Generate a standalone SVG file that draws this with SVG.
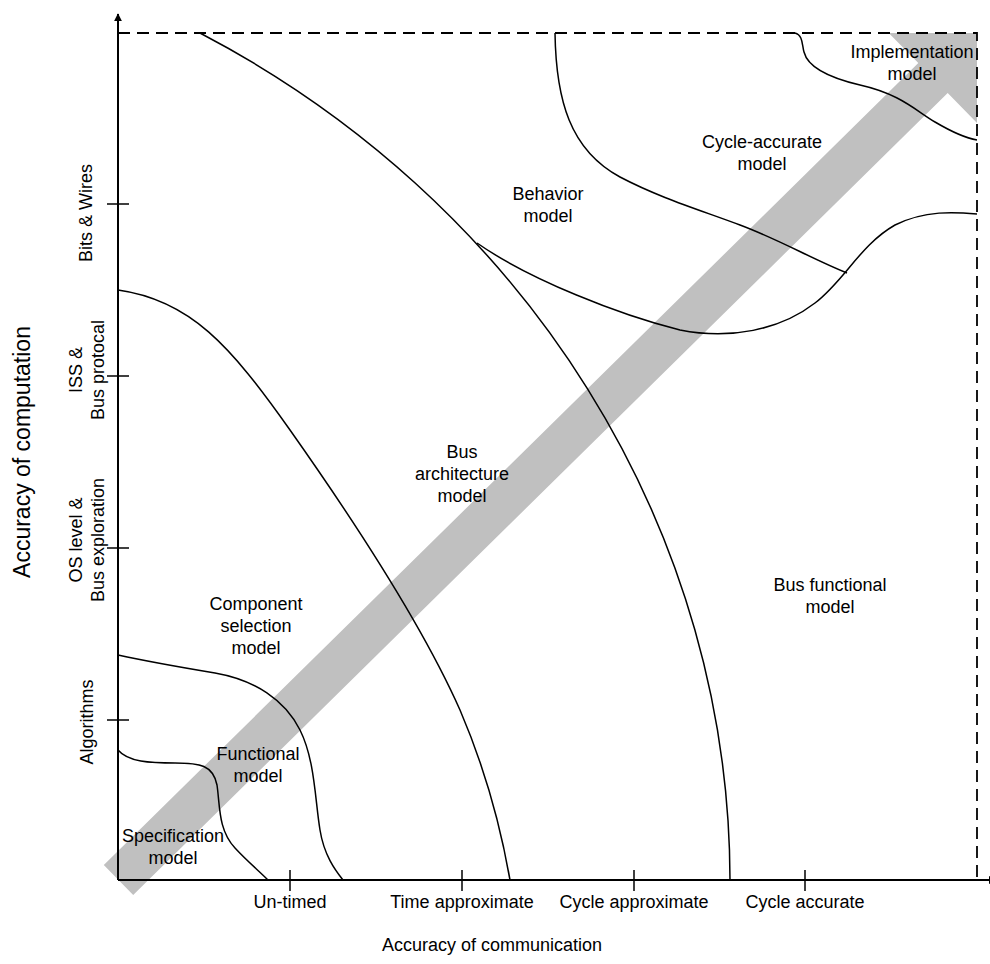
<svg xmlns="http://www.w3.org/2000/svg" width="990" height="964" viewBox="0 0 990 964">
  <style>
    .lbl { font-family: "Liberation Sans", Arial, sans-serif; font-size: 18px; fill: #000; text-anchor: middle; }
    .ttl { font-family: "Liberation Sans", Arial, sans-serif; fill: #000; text-anchor: middle; }
    .curve { fill: none; stroke: #000; stroke-width: 1.5; }
    .axis { fill: none; stroke: #000; stroke-width: 2; }
    .dash { fill: none; stroke: #000; stroke-width: 1.8; stroke-dasharray: 12 7; }
    .tick { stroke: #000; stroke-width: 1.5; }
  </style>
  <defs>
    <marker id="axisHead" viewBox="0 0 10 10" refX="9" refY="5" markerWidth="4" markerHeight="5" markerUnits="strokeWidth" orient="auto">
      <path d="M0,0 L10,5 L0,10 Z" fill="#000"/>
    </marker>
    <clipPath id="plotClip">
      <rect x="0" y="33" width="977" height="931"/>
    </clipPath>
  </defs>
  <rect width="990" height="964" fill="#fff"/>

  <!-- refinement band: wide grey block arrow running corner to corner -->
  <g id="refinement-arrow" clip-path="url(#plotClip)">
    <polygon fill="#c0c0c0" points="103.8,865 918.3,63.1 884,28.2 990,22 982,128 947.7,93.1 133.2,895"/>
  </g>

  <!-- plot frame: dashed top and right limits -->
  <g id="frame">
    <path class="dash" d="M118,33 H977 V880"/>
  </g>

  <!-- axes with ticks -->
  <g id="axes">
    <line class="axis" x1="118" y1="880" x2="118" y2="14" marker-end="url(#axisHead)"/>
    <line class="axis" x1="118" y1="880" x2="996" y2="880" marker-end="url(#axisHead)"/>
    <line class="tick" x1="290" y1="870" x2="290" y2="891"/>
    <line class="tick" x1="462" y1="870" x2="462" y2="891"/>
    <line class="tick" x1="634" y1="870" x2="634" y2="891"/>
    <line class="tick" x1="805" y1="870" x2="805" y2="891"/>
    <line class="tick" x1="107" y1="204" x2="129" y2="204"/>
    <line class="tick" x1="107" y1="376" x2="129" y2="376"/>
    <line class="tick" x1="107" y1="548" x2="129" y2="548"/>
    <line class="tick" x1="107" y1="720" x2="129" y2="720"/>
  </g>

  <!-- region boundaries -->
  <g id="connectors">
    <path id="b-spec" class="curve" d="M118,750 C128,762 150,763 175,763 C200,763 213,765 217,785 C220,805 218,830 235,848 C248,862 258,870 268,880"/>
    <path id="b-func" class="curve" d="M118,655 C150,662 185,668 215,673 C255,680 285,700 300,730 C315,760 315,800 320,830 C324,855 335,870 343,880"/>
    <path id="b-comp" class="curve" d="M118,290 C190,300 230,345 290,430 C350,515 420,620 460,710 C490,780 503,840 510,880"/>
    <path id="b-bus" class="curve" d="M200,33 A1030,970 0 0 1 730,880"/>
    <path id="b-behav" class="curve" d="M477,243 C530,280 620,315 680,330 C730,340 780,330 815,303 C845,280 860,245 895,225 C925,210 955,212 977,214"/>
    <path id="b-cycle" class="curve" d="M555,33 C556,100 570,150 620,177 C660,198 700,210 740,225 C780,240 810,258 847,273"/>
    <path id="b-impl" class="curve" d="M795,33 C803,35 802,45 804,52 C808,68 830,78 860,85 C900,94 915,110 935,122 C952,132 965,138 977,140"/>
  </g>

  <!-- model regions -->
  <g id="spec-model"><text class="lbl" x="173" y="842">Specification</text><text class="lbl" x="173" y="864">model</text></g>
  <g id="functional-model"><text class="lbl" x="258" y="760">Functional</text><text class="lbl" x="258" y="782">model</text></g>
  <g id="component-model"><text class="lbl" x="256" y="610">Component</text><text class="lbl" x="256" y="632">selection</text><text class="lbl" x="256" y="654">model</text></g>
  <g id="bus-arch-model"><text class="lbl" x="462" y="458">Bus</text><text class="lbl" x="462" y="480">architecture</text><text class="lbl" x="462" y="502">model</text></g>
  <g id="behavior-model"><text class="lbl" x="548" y="200">Behavior</text><text class="lbl" x="548" y="222">model</text></g>
  <g id="cycle-model"><text class="lbl" x="762" y="148">Cycle-accurate</text><text class="lbl" x="762" y="170">model</text></g>
  <g id="impl-model"><text class="lbl" x="912" y="58">Implementation</text><text class="lbl" x="912" y="80">model</text></g>
  <g id="bus-func-model"><text class="lbl" x="830" y="591">Bus functional</text><text class="lbl" x="830" y="613">model</text></g>

  <!-- communication axis labels -->
  <g id="x-labels">
    <text class="lbl" x="290" y="908">Un-timed</text>
    <text class="lbl" x="462" y="908">Time approximate</text>
    <text class="lbl" x="634" y="908">Cycle approximate</text>
    <text class="lbl" x="805" y="908">Cycle accurate</text>
    <text class="ttl" x="492" y="951" font-size="18">Accuracy of communication</text>
  </g>

  <!-- computation axis labels -->
  <g id="y-labels">
    <text class="lbl" transform="translate(92,213) rotate(-90)">Bits &amp; Wires</text>
    <text class="lbl" transform="translate(82,370) rotate(-90)">ISS &amp;</text>
    <text class="lbl" transform="translate(104,370) rotate(-90)">Bus protocal</text>
    <text class="lbl" transform="translate(82,540) rotate(-90)">OS level &amp;</text>
    <text class="lbl" transform="translate(104,540) rotate(-90)">Bus exploration</text>
    <text class="lbl" transform="translate(93,722) rotate(-90)">Algorithms</text>
    <text class="ttl" font-size="23" transform="translate(30,452) rotate(-90)">Accuracy of computation</text>
  </g>
</svg>
